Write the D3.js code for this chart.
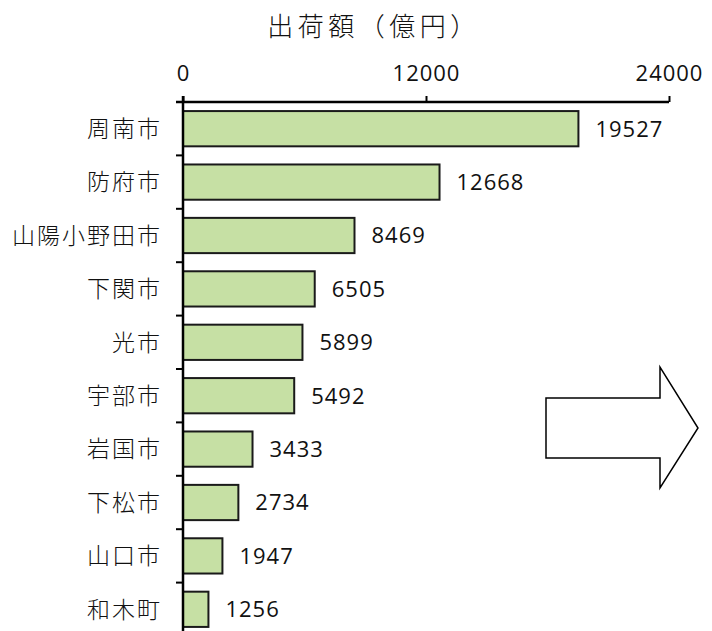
<!DOCTYPE html>
<html>
<head>
<meta charset="utf-8">
<script src="https://cdn.jsdelivr.net/npm/d3@7"></script>
<style>
  body { margin: 0; background: #fff; }
  svg { display: block; }
</style>
</head>
<body>
<div id="chart"></div>
<script>
// data
const cities = ["周南市", "防府市", "山陽小野田市", "下関市", "光市", "宇部市", "岩国市", "下松市", "山口市", "和木町"];
const shipments = [19527, 12668, 8469, 6505, 5899, 5492, 3433, 2734, 1947, 1256];
const tickValues = [0, 12000, 24000];
const title = "出荷額（億円）";

const width = 712, height = 631;
const jpFont = "'Noto Sans CJK JP', 'Noto Sans', sans-serif";
const numFont = "'Open Sans', 'Noto Sans', sans-serif";

const svg = d3.select("#chart").append("svg")
    .attr("width", width)
    .attr("height", height);

const x = d3.scaleLinear().domain([0, 24000]).range([183, 669]);
const y = d3.scaleBand().domain(cities).range([102, 636])
    .paddingInner(0.34).paddingOuter(0.17);

// title
svg.append("text")
    .attr("x", 374)
    .attr("y", 36)
    .attr("text-anchor", "middle")
    .attr("font-family", jpFont)
    .attr("font-weight", 300)
    .attr("font-size", 26)
    .attr("letter-spacing", 4.5)
    .attr("fill", "#111")
    .text(title);

// bars
svg.selectAll("rect.bar")
    .data(shipments)
    .enter().append("rect")
    .attr("class", "bar")
    .attr("x", x(0))
    .attr("y", (d, i) => y(cities[i]))
    .attr("width", d => x(d) - x(0))
    .attr("height", y.bandwidth())
    .attr("fill", "#c6e0a4")
    .attr("stroke", "#1a1a1a")
    .attr("stroke-width", 2);

// value labels
svg.selectAll("text.value")
    .data(shipments)
    .enter().append("text")
    .attr("class", "value")
    .attr("x", d => x(d) + 17)
    .attr("y", (d, i) => y(cities[i]) + y.bandwidth() / 2)
    .attr("dy", "0.36em")
    .attr("font-family", numFont)
    .attr("font-size", 22)
    .attr("letter-spacing", 1)
    .attr("fill", "#111")
    .text(d => d);

// top axis
const xAxis = svg.append("g")
    .attr("transform", "translate(0,102)")
    .call(d3.axisTop(x).tickValues(tickValues).tickSize(6).tickSizeOuter(0).tickFormat(d3.format("d")));
xAxis.select(".domain").attr("d", `M176,0H${x(24000)}`).attr("stroke", "#000").attr("stroke-width", 2.5);
xAxis.selectAll(".tick line").attr("stroke", "#000").attr("stroke-width", 2);
xAxis.selectAll(".tick text")
    .attr("y", -21)
    .attr("font-family", numFont)
    .attr("font-size", 22)
    .attr("letter-spacing", 1)
    .attr("fill", "#111");

// left axis: ticks sit between categories
const yAxis = svg.append("g");
yAxis.append("line")
    .attr("x1", x(0)).attr("x2", x(0))
    .attr("y1", 96).attr("y2", height)
    .attr("stroke", "#000")
    .attr("stroke-width", 2.5);
const gap = y.step() * y.paddingInner() / 2;
yAxis.selectAll("line.sep")
    .data(cities.slice(1))
    .enter().append("line")
    .attr("class", "sep")
    .attr("x1", x(0) - 7).attr("x2", x(0))
    .attr("y1", d => y(d) - gap)
    .attr("y2", d => y(d) - gap)
    .attr("stroke", "#000")
    .attr("stroke-width", 2);

// category labels
svg.selectAll("text.cat")
    .data(cities)
    .enter().append("text")
    .attr("class", "cat")
    .attr("x", 162)
    .attr("y", d => y(d) + y.bandwidth() / 2)
    .attr("dy", "0.36em")
    .attr("text-anchor", "end")
    .attr("font-family", jpFont)
    .attr("font-weight", 300)
    .attr("font-size", 23)
    .attr("letter-spacing", 2)
    .attr("fill", "#111")
    .text(d => d);

// outlined arrow on the right
const arrow = d3.path();
arrow.moveTo(546, 398);
arrow.lineTo(660, 398);
arrow.lineTo(660, 367);
arrow.lineTo(698, 428);
arrow.lineTo(660, 488);
arrow.lineTo(660, 458);
arrow.lineTo(546, 458);
arrow.closePath();
svg.append("path")
    .attr("d", arrow.toString())
    .attr("fill", "#fff")
    .attr("stroke", "#000")
    .attr("stroke-width", 1.5);
</script>
</body>
</html>
